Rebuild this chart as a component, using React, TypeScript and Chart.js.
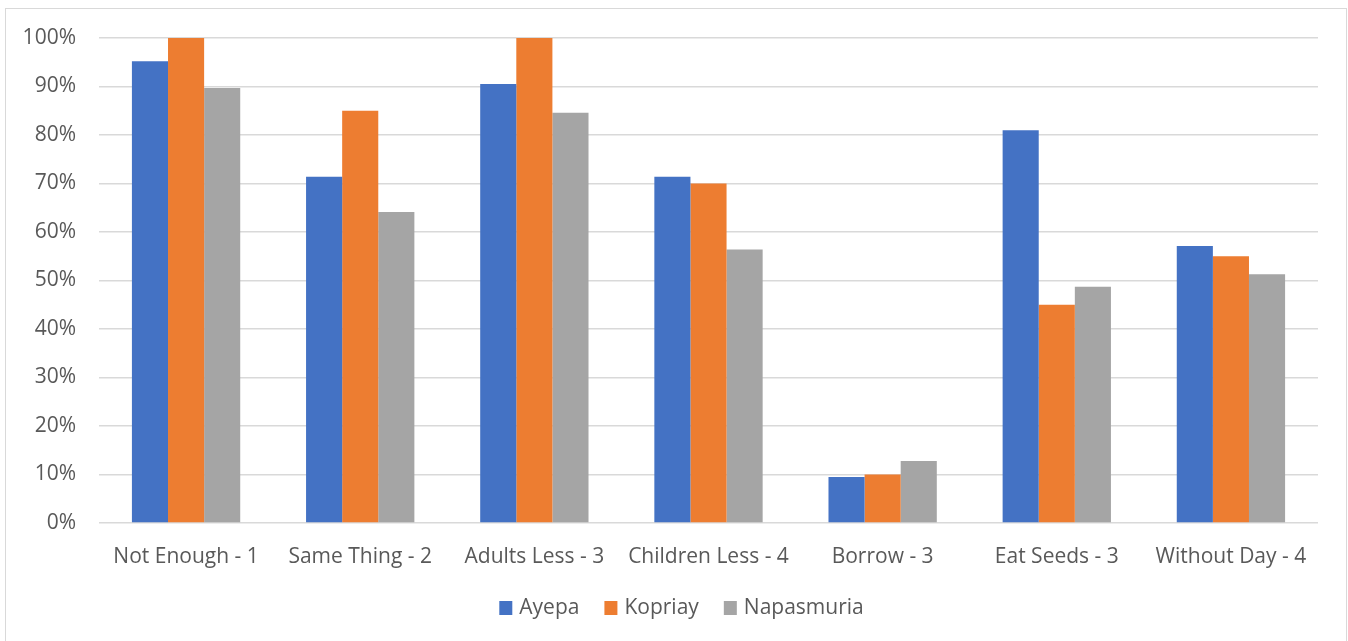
import React, { useEffect, useRef } from "react";
import { Chart, registerables } from "chart.js";

Chart.register(...registerables);

const categories = [
  "Not Enough - 1",
  "Same Thing - 2",
  "Adults Less - 3",
  "Children Less - 4",
  "Borrow - 3",
  "Eat Seeds - 3",
  "Without Day - 4",
];
const seriesNames = ["Ayepa", "Kopriay", "Napasmuria"];
const ayepa = [95.2, 71.4, 90.5, 71.4, 9.5, 81.0, 57.1];
const kopriay = [100, 85.0, 100, 70.0, 10.0, 45.0, 55.0];
const napasmuria = [89.7, 64.1, 84.6, 56.4, 12.8, 48.7, 51.3];
const yTicks = [0, 10, 20, 30, 40, 50, 60, 70, 80, 90, 100];
const colors = ["#4472C4", "#ED7D31", "#A5A5A5"];

const FONT = "'Open Sans', sans-serif";
const TEXT = "#595959";

const legendPlugin = {
  id: "customLegend",
  afterDraw(chart: any) {
    const ctx = chart.ctx;
    ctx.save();
    ctx.font = `21px ${FONT}`;
    ctx.textBaseline = "middle";
    ctx.textAlign = "left";
    const box = 13;
    const gapText = 7;
    const gapItem = 25;
    const items = chart.data.datasets.map((d: any) => ({
      label: d.label,
      color: d.backgroundColor,
      w: ctx.measureText(d.label).width,
    }));
    const total =
      items.reduce((a: number, it: any) => a + box + gapText + it.w, 0) +
      gapItem * (items.length - 1);
    let x = 675.5 - total / 2;
    const cy = 599;
    items.forEach((it: any) => {
      ctx.fillStyle = it.color;
      ctx.fillRect(x, cy - 7, box, 14);
      x += box + gapText;
      ctx.fillStyle = TEXT;
      ctx.fillText(it.label, x, cy);
      x += it.w + gapItem;
    });
    ctx.restore();
  },
};

export default function App() {
  const ref = useRef<HTMLCanvasElement | null>(null);
  useEffect(() => {
    if (!ref.current) return;
    const chart = new Chart(ref.current, {
      type: "bar",
      data: {
        labels: categories,
        datasets: [
          { label: seriesNames[0], data: ayepa, backgroundColor: colors[0] },
          { label: seriesNames[1], data: kopriay, backgroundColor: colors[1] },
          { label: seriesNames[2], data: napasmuria, backgroundColor: colors[2] },
        ],
      },
      plugins: [legendPlugin],
      options: {
        animation: false,
        responsive: true,
        maintainAspectRatio: false,
        layout: { padding: { top: 23, right: 28, bottom: 65, left: 0 } },
        datasets: {
          bar: { categoryPercentage: 0.622, barPercentage: 1 },
        },
        scales: {
          x: {
            grid: { display: false, drawTicks: false },
            border: { display: false },
            ticks: {
              color: TEXT,
              font: { family: FONT, size: 21 },
              padding: 21,
              maxRotation: 0,
              autoSkip: false,
            },
            afterFit: (s: any) => {
              s.height = 59;
            },
          },
          y: {
            min: 0,
            max: 100,
            afterBuildTicks: (s: any) => {
              s.ticks = yTicks.map((v) => ({ value: v }));
            },
            grid: { color: "#d9d9d9", lineWidth: 1.5, drawTicks: false },
            border: { display: false },
            ticks: {
              color: TEXT,
              font: { family: FONT, size: 21, lineHeight: 0.57 },
              padding: 23,
              callback: (v: any) => v + "%",
            },
            afterFit: (s: any) => {
              s.width = 93;
            },
          },
        },
        plugins: {
          legend: { display: false },
          tooltip: { enabled: false },
        },
      },
    });
    return () => chart.destroy();
  }, []);
  return (
    <div
      style={{
        position: "absolute",
        left: 5,
        top: 8,
        width: 1342,
        height: 640,
        border: "1px solid #d9d9d9",
        boxSizing: "border-box",
        background: "#fff",
      }}
    >
      <div style={{ position: "relative", width: 1340, height: 638 }}>
        <canvas ref={ref} />
      </div>
    </div>
  );
}
